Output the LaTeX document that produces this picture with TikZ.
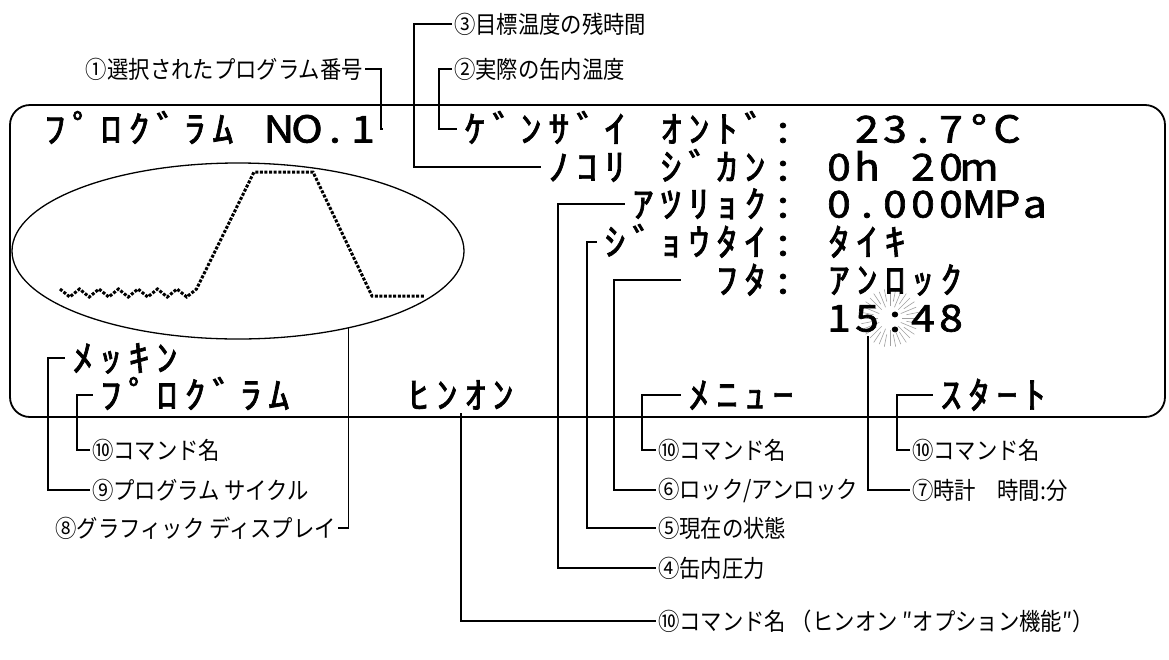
\documentclass[tikz,border=0pt]{standalone}
\usepackage{fontspec}
\usetikzlibrary{shapes.geometric}
\newfontfamily\jpfont[FakeStretch=0.89]{Noto Sans CJK JP}
\newfontfamily\lcdfont[FakeStretch=1.15,FakeBold=1.8]{Noto Sans CJK JP}
% one fixed cell per LCD character
\newlength\lcdcell
\setlength\lcdcell{28pt}
\def\lcdend{\lcdend}
\def\lcd#1{\lcdstep#1\lcdend}
\def\lcdstep#1{\ifx#1\lcdend\else\makebox[\lcdcell][c]{#1}\expandafter\lcdstep\fi}
\begin{document}
\begin{tikzpicture}[x=1pt,y=-1pt,line cap=rect]
\definecolor{col_black}{RGB}{0, 0, 0}
\definecolor{col_ray}{RGB}{160, 160, 160}
\tikzset{
  lcd/.style={inner sep=0, outer sep=5pt, anchor=west, text height=27pt, text depth=0pt, col_black, font=\lcdfont\fontsize{37}{37}\selectfont},
  note/.style={inner sep=0, outer sep=3pt, anchor=west, col_black, font=\jpfont\fontsize{24}{24}\selectfont},
  wire/.style={line width=1.3pt, col_black},
}
\useasboundingbox (0,0) rectangle (1169,659);
% LCD frame and graph
\draw [line width=1.8pt, col_black, rounded corners=20pt] (10,105) rectangle (1165,417);
\node [draw, ellipse, line width=1.3pt, col_black, minimum width=452, minimum height=176, inner sep=0] (graph) at (238,251) {};
\draw [line width=3pt, line cap=butt, dash pattern=on 3pt off 1.6pt, col_black] (60,289)
  \foreach \k in {0,...,6} { -- ({69.75+19.5*\k},297) -- ({79.5+19.5*\k},289) }
  -- (254,172) -- (313,172) -- (372,296) -- (425,296);
% blinking colon
\foreach \a in {0,22.5,...,337.5} \draw [line width=0.6pt, col_ray] (890,318) ++(\a:12) -- ++(\a:16);
\foreach \a in {11.25,33.75,...,348.75} \draw [line width=0.6pt, col_ray] (890,318) ++(\a:17) -- ++(\a:12);
% LCD rows, x = 36 + 28*column
\node [lcd] (prog)   at ({36+28*0},129)  {\lcd{ﾌﾟﾛｸﾞﾗﾑ~NO.1}};
\node [lcd] (kenzai) at ({36+28*15},129) {\lcd{ｹﾞﾝｻﾞｲ~ｵﾝﾄﾞ:~~23.7°C}};
\node [lcd] (nokori) at ({36+28*18},167) {\lcd{ﾉｺﾘ~ｼﾞｶﾝ:~0h~20m}};
\node [lcd] (atsu)   at ({36+28*21},204) {\lcd{ｱﾂﾘｮｸ:~0.000MPa}};
\node [lcd] (joutai) at ({36+28*20},242) {\lcd{ｼﾞｮｳﾀｲ:~ﾀｲｷ}};
\node [lcd] (futa)   at ({36+28*24},280) {\lcd{ﾌﾀ:~ｱﾝﾛｯｸ}};
\node [lcd] (clock)  at ({36+28*28},318) {\lcd{15:48}};
\node [lcd] (mekkin) at ({36+28*1},358)  {\lcd{ﾒｯｷﾝ}};
\node [lcd] (cycle)  at ({36+28*2},395)  {\lcd{ﾌﾟﾛｸﾞﾗﾑ}};
\node [lcd] (hinon)  at ({36+28*13},395) {\lcd{ﾋﾝｵﾝ}};
\node [lcd] (menu)   at ({36+28*23},395) {\lcd{ﾒﾆｭｰ}};
\node [lcd] (start)  at ({36+28*32},395) {\lcd{ｽﾀｰﾄ}};
% callouts
\node [note] (l3) at (451,24) {③目標温度の残時間};
\node [note] (l2) at (451,69) {②実際の缶内温度};
\node [note, anchor=east] (l1) at (366,69) {①選択されたプログラム番号};
\node [note] (l10a) at (89,450) {⑩コマンド名};
\node [note] (l9) at (89,490) {⑨プログラム サイクル};
\node [note, anchor=east] (l8) at (339,528) {⑧グラフィック ディスプレイ};
\node [note] (l10b) at (655,450) {⑩コマンド名};
\node [note] (l10c) at (909,450) {⑩コマンド名};
\node [note] (l6) at (655,490) {⑥ロック/アンロック};
\node [note] (l7) at (909,490) {⑦時計　時間:分};
\node [note] (l5) at (655,528) {⑤現在の状態};
\node [note] (l4) at (655,568) {④缶内圧力};
\node [note] (l10d) at (655,621) {⑩コマンド名 （ヒンオン ″オプション機能″）};
\draw [wire] (l3.west) -- ++(-37,0) |- (nokori.west);
\draw [wire] (l2.west) -- ++(-12,0) |- (kenzai.west);
\draw [wire] (l1.east) -- ++(15,0) |- (prog.east);
\draw [wire] (atsu.west) -- ++(-66,0) |- (l4.west);
\draw [wire] (joutai.west) -- ++(-9,0) |- (l5.west);
\draw [wire] ([xshift=-28pt]futa.west) -- ++(-66,0) |- (l6.west);
\draw [wire] ([xshift=-27pt]clock.south) |- (l7.west);
\draw [wire] (menu.west) -- ++(-38,0) |- (l10b.west);
\draw [wire] (start.west) -- ++(-35,0) |- (l10c.west);
\draw [wire] (cycle.west) -- ++(-15,0) |- (l10a.west);
\draw [wire] (mekkin.west) -- ++(-16,0) |- (l9.west);
\draw [wire] (graph.-35) |- (l8.east);
\draw [wire] (hinon.south) |- (l10d.west);
\end{tikzpicture}
\end{document}
